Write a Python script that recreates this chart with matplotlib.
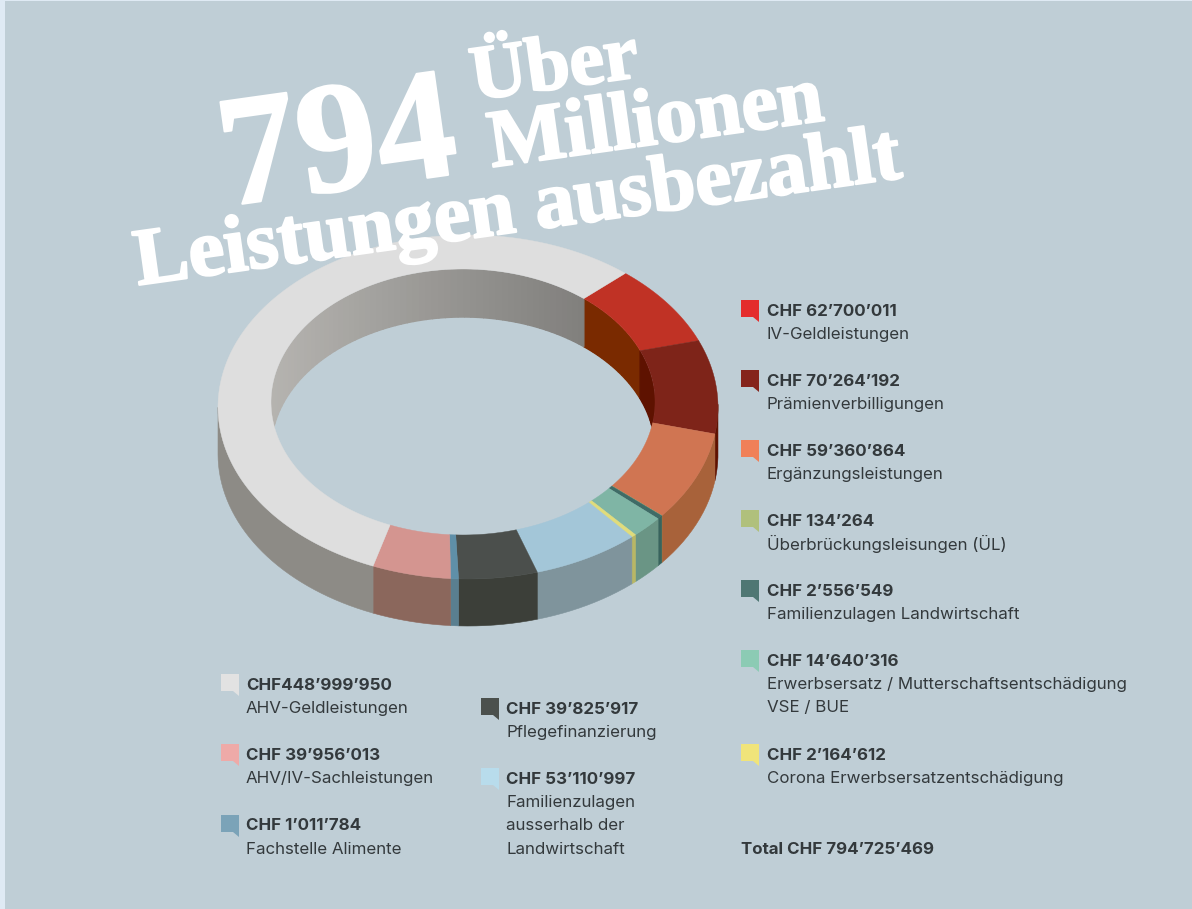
import numpy as np
import matplotlib
matplotlib.use('Agg')
import matplotlib.pyplot as plt
import matplotlib.patheffects as pe
from matplotlib.patches import Polygon, Rectangle

# Werte im Uhrzeigersinn, Start beim roten Segment
werte = [62700011, 70264192, 59360864, 134264, 2556549, 14640316,
         2164612, 53110997, 39825917, 1011784, 39956013, 448999950]
farbe_top = ['#c03225', '#7e2419', '#d07552', '#a8b07a', '#3f6b66', '#7fb5a5',
             '#e0dc7c', '#a3c6d8', '#4b4f4c', '#5f8fa8', '#d49590', '#dedede']
farbe_wand = ['#7a2a00', '#5e1200', '#a8623a', '#8f9460', '#38635c', '#6a9585',
              '#b8b765', '#7f949c', '#3c3f39', '#5a7f90', '#8b675c', '#8d8b86']
farbe_marker = ['#e42c2c', '#85241c', '#f08058', '#b0c07c', '#4f7773', '#8ccbb4',
                '#f0e47a', '#b8dcec', '#4b504d', '#7ba3b8', '#eeaaa8', '#e2e2e2']
betraege = ['CHF 62’700’011', 'CHF 70’264’192', 'CHF 59’360’864', 'CHF 134’264',
            'CHF 2’556’549', 'CHF 14’640’316', 'CHF 2’164’612', 'CHF 53’110’997',
            'CHF 39’825’917', 'CHF 1’011’784', 'CHF 39’956’013', 'CHF448’999’950']
namen = ['IV-Geldleistungen', 'Prämienverbilligungen', 'Ergänzungsleistungen',
         'Überbrückungsleisungen (ÜL)', 'Familienzulagen Landwirtschaft',
         'Erwerbsersatz / Mutterschaftsentschädigung\nVSE / BUE',
         'Corona Erwerbsersatzentschädigung',
         'Familienzulagen\nausserhalb der\nLandwirtschaft', 'Pflegefinanzierung',
         'Fachstelle Alimente', 'AHV/IV-Sachleistungen', 'AHV-Geldleistungen']
total = 'Total CHF 794’725’469'

# Legendenposition je Segment (Marker x, Text x, Zeile y)
leg_pos = [(741, 767, 310), (741, 767, 380), (741, 767, 450), (741, 767, 520),
           (741, 767, 590), (741, 767, 660), (741, 767, 754), (481, 506, 778),
           (481, 506, 708), (221, 246, 825), (221, 246, 754), (221, 246, 684)]

BG = '#bfced6'
TXT = '#33393c'
FS = 12.2
start = 51.0
# Ellipsen in Pixeln
ox, oy, oa, ob = 468, 407, 250, 172
ix, iy, ia, ib = 463, 402, 192, 133
h = 47


def winkel(s):
    # Perspektive: vorne sind die Segmente im Bild etwas verschoben
    return np.radians(start - (s + np.interp(s, [0, 60, 100, 160, 360], [0, 0, 5, 6, 0])))


def aussen(s):
    t = winkel(s)
    return ox + oa * np.cos(t), oy - ob * np.sin(t)


def innen(s):
    t = winkel(s)
    return ix + ia * np.cos(t), iy - ib * np.sin(t)


fig = plt.figure(figsize=(11.92, 9.09), dpi=100, facecolor='#dfeaf4')
ax = fig.add_axes([0, 0, 1, 1])
ax.set_xlim(0, 1192)
ax.set_ylim(909, 0)
ax.axis('off')
ax.add_patch(Rectangle((5, 1), 1187, 908, fc=BG, ec='none', zorder=0))

sweep = np.array(werte) / np.sum(werte) * 360
# Fachstelle ist im Original breiter gezeichnet als ihr Anteil
sweep[9] = 1.8
sweep = sweep / sweep.sum() * 360
grenzen = np.concatenate([[0], np.cumsum(sweep)])

# Innenwand (nur hinten sichtbar, am Loch abgeschnitten)
loch_t = np.linspace(0, 2 * np.pi, 400)
loch = Polygon(np.c_[ix + ia * np.cos(loch_t), iy + ib * np.sin(loch_t)], transform=ax.transData)
for i in range(len(werte)):
    n = max(2, int((grenzen[i + 1] - grenzen[i]) / 2) + 2)
    s = np.linspace(grenzen[i], grenzen[i + 1], n)
    for a, b in zip(s[:-1], s[1:]):
        if np.sin(winkel((a + b) / 2)) <= 0:
            continue
        xa, ya = innen(a)
        xb, yb = innen(b)
        c = farbe_wand[i]
        if i == len(werte) - 1:
            # grau, links heller als rechts
            g = np.interp(xa, [272, 460, 590], [0.71, 0.58, 0.50])
            c = (g, g * 0.99, g * 0.97)
        p = ax.fill([xa, xb, xb, xa], [ya, yb, yb + h + 1, ya + h + 1], color=c, lw=1.0, zorder=1)[0]
        p.set_clip_path(loch)

# Aussenwand vorne
for i in range(len(werte)):
    s = np.linspace(grenzen[i], grenzen[i + 1], max(2, int((grenzen[i + 1] - grenzen[i]) / 2) + 2))
    s = s[np.sin(winkel(s)) < 0.02] if len(s) > 2 else s
    if len(s) < 2 or np.sin(winkel(s.mean())) > 0.02:
        continue
    x, y = aussen(s)
    ax.fill(np.r_[x, x[::-1]], np.r_[y, y[::-1] + h], color=farbe_wand[i], lw=0.4, zorder=2)

# Oberseite
for i in range(len(werte)):
    s = np.linspace(grenzen[i], grenzen[i + 1], max(2, int(grenzen[i + 1] - grenzen[i]) + 2))
    xo, yo = aussen(s)
    xi, yi = innen(s)
    ax.fill(np.r_[xo, xi[::-1]], np.r_[yo, yi[::-1]], color=farbe_top[i], lw=0.3, zorder=3)

# Titel
stroke = [pe.withStroke(linewidth=1.6, foreground='white')]
titel = dict(family='Liberation Serif', weight='bold', color='white', rotation=8,
             rotation_mode='anchor', ha='left', va='baseline', zorder=6, path_effects=stroke)
ax.text(226, 206, '794', fontsize=114, **titel)
ax.text(474, 100, 'Über', fontsize=56, **titel)
ax.text(492, 167, 'Millionen', fontsize=59, **titel)
ax.text(138, 285, 'Leistungen ausbezahlt', fontsize=58.4, **titel)

# Legende
for i in range(len(werte)):
    mx, tx, ty = leg_pos[i]
    my = ty - 10
    ax.add_patch(Polygon([(mx, my), (mx + 18, my), (mx + 18, my + 22), (mx + 12, my + 17), (mx, my + 17)],
                         fc=farbe_marker[i], ec='none', zorder=4))
    ax.text(tx, ty + 1, betraege[i], family='Inter', weight='bold', fontsize=FS, color=TXT, va='center', zorder=5)
    for k, zeile in enumerate(namen[i].split('\n')):
        ax.text(tx, ty + 24 + k * 24, zeile, family='Inter', fontsize=FS, color=TXT, va='center', zorder=5)
ax.text(741, 849, total, family='Inter', weight='bold', fontsize=FS, color=TXT, va='center', zorder=5)

fig.savefig('out.png', dpi=100, facecolor=fig.get_facecolor())
